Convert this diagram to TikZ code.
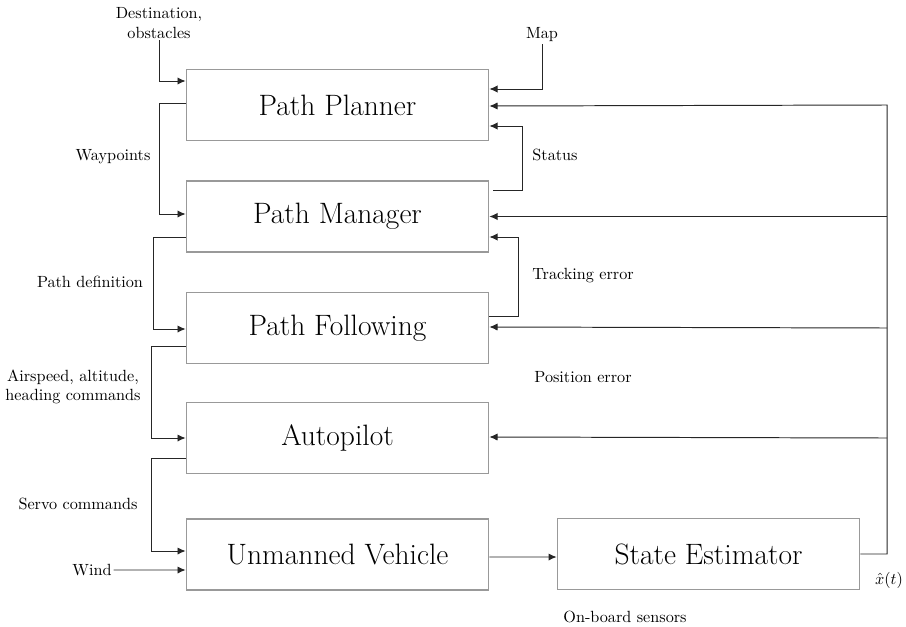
\documentclass[tikz,border=0pt]{standalone}
\usetikzlibrary{arrows.meta,calc}
\begin{document}
\begin{tikzpicture}[
			x=0.0217cm,y=-0.0217cm,
			block/.style={draw=black!40,line width=0.9pt,minimum width=6.56cm,minimum height=1.55cm,inner sep=0pt,font=\fontsize{18.2}{22}\selectfont},
			arr/.style={-{Latex[length=5pt,width=4.5pt]},line width=0.6pt,draw=black!85},
			lbl/.style={font=\normalsize,align=center,inner sep=1pt}
		]
		\useasboundingbox (0,0) rectangle (906,626);
		\node[block] (pp) at (337.5,105) {Path Planner};
		\node[block] (pm) at (337.5,216.5) {Path Manager};
		\node[block] (pf) at (337.5,328) {Path Following};
		\node[block] (ap) at (337.5,438) {Autopilot};
		\node[block] (uv) at (337.5,554.5) {Unmanned Vehicle};
		\node[block] (se) at (708.5,554) {State Estimator};
		\node[lbl] (dst) at (159,23) {Destination,\\obstacles};
		\node[lbl] (map) at (542,35) {Map};
		\node[lbl] (wind) at (92,570) {Wind};
		\node[lbl] (wp) at (113,157) {Waypoints};
		\node[lbl] (pdef) at (90,282) {Path definition};
		\node[lbl] (cmd) at (73,387) {Airspeed, altitude,\\heading commands};
		\node[lbl] (servo) at (78,504) {Servo commands};
		\node[lbl] (status) at (555,155) {Status};
		\node[lbl] (track) at (583,276) {Tracking error};
		\node[lbl] (poserr) at (583,377) {Position error};
		\node[lbl] (sens) at (625,617) {On-board sensors};
		\node[lbl] (xhat) at (889,580) {$\hat{x}(t)$};
		\coordinate (fb) at (887,105);
		\draw[arr] (dst.south) |- ($(pp.west)+(0,-24)$);
		\draw[arr] (map.south) |- ($(pp.east)+(0,-16)$);
		\draw[arr] ($(pp.west)+(0,-2)$) -- ++(-26,0) |- ($(pm.west)+(0,-2.5)$);
		\draw[arr] ($(pm.west)+(0,20.5)$) -- ++(-32,0) |- ($(pf.west)+(0,1)$);
		\draw[arr] ($(pf.west)+(0,18)$) -- ++(-34,0) |- (ap.west);
		\draw[arr] ($(ap.west)+(0,20)$) -- ++(-34,0) |- ($(uv.west)+(0,-3.5)$);
		\draw[arr] (wind.east) -- ($(uv.west)+(0,15.5)$);
		\draw[arr] ($(uv.east)+(0,2.5)$) -- ($(se.west)+(0,3)$);
		\draw[arr] (se.east) -| (fb) -- ($(pp.east)+(0,1)$);
		\draw[arr] (fb |- pm.east) -- (pm.east);
		\draw[arr] (fb |- pf.east) -- ($(pf.east)+(0,-1)$);
		\draw[arr] (fb |- ap.east) -- ($(ap.east)+(0,-1)$);
		\draw[arr] ($(pm.north east)+(4,10)$) -| ($(pp.east)+(33,21)$) -- ($(pp.east)+(0,21)$);
		\draw[arr] ($(pf.east)+(0,-12)$) -| ($(pm.east)+(29,20.5)$) -- ($(pm.east)+(0,20.5)$);
	\end{tikzpicture}
\end{document}
